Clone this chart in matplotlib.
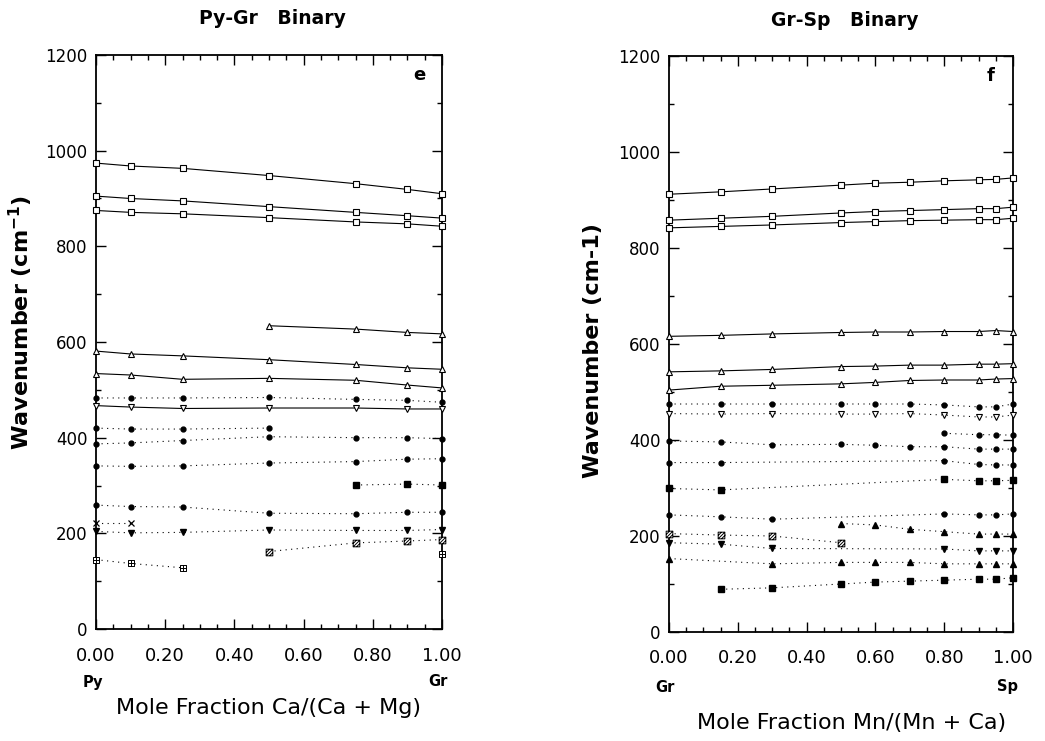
import matplotlib
matplotlib.use('Agg')
import matplotlib.pyplot as plt
from matplotlib.path import Path
from matplotlib.ticker import MultipleLocator, FormatStrFormatter

plt.rcParams['font.family'] = ['DejaVu Sans']

# ---------------- data: Py-Gr binary (panel e) ----------------
x_pg = [0.0, 0.1, 0.25, 0.5, 0.75, 0.9, 1.0]
pg_sq1 = [974, 968, 963, 948, 931, 919, 910]
pg_sq2 = [905, 900, 895, 883, 871, 864, 859]
pg_sq3 = [875, 871, 868, 860, 851, 847, 842]
x_pg_tri1 = [0.5, 0.75, 0.9, 1.0]
pg_tri1 = [634, 627, 620, 617]
pg_tri2 = [581, 575, 571, 563, 553, 546, 543]
pg_tri3 = [534, 531, 522, 524, 520, 510, 504]
pg_dot1 = [483, 483, 483, 484, 480, 478, 474]
pg_dtri = [467, 464, 461, 462, 462, 460, 460]
x_pg_dot2 = [0.0, 0.1, 0.25, 0.5]
pg_dot2 = [420, 418, 418, 420]
pg_dot3 = [387, 389, 394, 402, 400, 400, 398]
pg_dot4 = [341, 340, 341, 347, 350, 355, 356]
x_pg_fsq = [0.75, 0.9, 1.0]
pg_fsq = [301, 303, 301]
pg_dot5 = [259, 256, 255, 242, 241, 244, 244]
x_pg_x = [0.0, 0.1]
pg_x = [222, 222]
pg_fdtri = [204, 201, 202, 207, 206, 206, 208]
x_pg_hsq = [0.5, 0.75, 0.9, 1.0]
pg_hsq = [162, 180, 184, 187]
x_pg_psq = [0.0, 0.1, 0.25]
pg_psq = [145, 137, 128]
x_pg_psq_end = [1.0]
pg_psq_end = [157]

# ---------------- data: Gr-Sp binary (panel f) ----------------
x_gs = [0.0, 0.15, 0.3, 0.5, 0.6, 0.7, 0.8, 0.9, 0.95, 1.0]
gs_sq1 = [912, 917, 923, 931, 935, 937, 940, 942, 943, 946]
gs_sq2 = [858, 862, 866, 873, 876, 878, 880, 882, 882, 885]
gs_sq3 = [842, 845, 848, 853, 855, 857, 858, 859, 859, 862]
gs_tri1 = [616, 618, 621, 624, 625, 625, 626, 626, 628, 626]
gs_tri2 = [542, 544, 547, 553, 554, 556, 556, 558, 558, 559]
gs_tri3 = [504, 512, 514, 517, 520, 524, 525, 525, 527, 528]
gs_dot1 = [475, 475, 475, 475, 475, 475, 473, 469, 469, 475]
gs_dtri = [455, 454, 455, 454, 454, 455, 452, 448, 448, 452]
x_gs_dot2 = [0.8, 0.9, 0.95, 1.0]
gs_dot2 = [414, 411, 411, 410]
gs_dot3 = [398, 396, 390, 391, 389, 386, 386, 381, 381, 381]
x_gs_dot4 = [0.0, 0.15, 0.8, 0.9, 0.95, 1.0]
gs_dot4 = [353, 353, 357, 349, 348, 348]
x_gs_fsq1 = [0.0, 0.15, 0.8, 0.9, 0.95, 1.0]
gs_fsq1 = [299, 296, 318, 315, 315, 316]
x_gs_dot5 = [0.0, 0.15, 0.3, 0.8, 0.9, 0.95, 1.0]
gs_dot5 = [244, 240, 235, 246, 244, 244, 246]
x_gs_ftri1 = [0.5, 0.6, 0.7, 0.8, 0.9, 0.95, 1.0]
gs_ftri1 = [226, 223, 214, 209, 204, 204, 204]
x_gs_hsq = [0.0, 0.15, 0.3, 0.5]
gs_hsq = [205, 202, 200, 186]
x_gs_fdtri = [0.0, 0.15, 0.3, 0.8, 0.9, 0.95, 1.0]
gs_fdtri = [186, 183, 174, 173, 169, 169, 169]
x_gs_ftri2 = [0.0, 0.3, 0.5, 0.6, 0.7, 0.8, 0.9, 0.95, 1.0]
gs_ftri2 = [153, 142, 145, 145, 145, 142, 142, 142, 142]
x_gs_fsq2 = [0.15, 0.3, 0.5, 0.6, 0.7, 0.8, 0.9, 0.95, 1.0]
gs_fsq2 = [89, 92, 100, 104, 106, 108, 110, 110, 113]

xticks = [0.0, 0.2, 0.4, 0.6, 0.8, 1.0]

# ---------------- custom markers ----------------
M, L, C = Path.MOVETO, Path.LINETO, Path.CLOSEPOLY
sq_plus = Path([(-1, -1), (1, -1), (1, 1), (-1, 1), (-1, -1),
                (0, -1), (0, 1), (-1, 0), (1, 0)],
               [M, L, L, L, C, M, L, M, L])
sq_hatch = Path([(-1, -1), (1, -1), (1, 1), (-1, 1), (-1, -1),
                 (-1, -1), (1, 1), (-1, 0), (0, 1), (0, -1), (1, 0)],
                [M, L, L, L, C, M, L, M, L, M, L])

solid = dict(ls='-', lw=0.8, color='black')
dotted = dict(ls=(0, (1, 4)), lw=0.8, color='black')
st = {
    'osq': dict(solid, marker='s', ms=4.8, mfc='white', mec='black', mew=0.8),
    'otri': dict(solid, marker='^', ms=4.2, mfc='white', mec='black', mew=0.8),
    'odtri': dict(solid, marker='v', ms=4.2, mfc='white', mec='black', mew=0.8),
    'dot': dict(dotted, marker='o', ms=3.5, mfc='black', mec='black'),
    'odtri_d': dict(dotted, marker='v', ms=4.2, mfc='white', mec='black', mew=0.8),
    'fsq': dict(dotted, marker='s', ms=4.2, mfc='black', mec='black'),
    'fdtri': dict(dotted, marker='v', ms=4.5, mfc='black', mec='black'),
    'ftri': dict(dotted, marker='^', ms=4.5, mfc='black', mec='black'),
    'x': dict(dotted, marker='x', ms=4.2, mec='black', mew=0.9),
    'hsq': dict(dotted, marker=sq_hatch, ms=4.8, mfc='white', mec='black', mew=0.7),
    'psq': dict(dotted, marker=sq_plus, ms=4.8, mfc='white', mec='black', mew=0.7),
}

W, H = 1045, 741
fig = plt.figure(figsize=(10.45, 7.41), dpi=100)


def fx(x):
    return x / W


def fy(y):
    return 1 - y / H


ax1 = fig.add_axes([fx(96), fy(629), fx(442) - fx(96), fy(55) - fy(629)])
ax2 = fig.add_axes([fx(669), fy(632), fx(1013) - fx(669), fy(56) - fy(632)])

series_pg = [
    (x_pg, pg_sq1, 'osq'), (x_pg, pg_sq2, 'osq'), (x_pg, pg_sq3, 'osq'),
    (x_pg_tri1, pg_tri1, 'otri'), (x_pg, pg_tri2, 'otri'), (x_pg, pg_tri3, 'otri'),
    (x_pg, pg_dot1, 'dot'), (x_pg, pg_dtri, 'odtri'),
    (x_pg_dot2, pg_dot2, 'dot'), (x_pg, pg_dot3, 'dot'), (x_pg, pg_dot4, 'dot'),
    (x_pg_fsq, pg_fsq, 'fsq'), (x_pg, pg_dot5, 'dot'), (x_pg_x, pg_x, 'x'),
    (x_pg, pg_fdtri, 'fdtri'), (x_pg_hsq, pg_hsq, 'hsq'),
    (x_pg_psq, pg_psq, 'psq'), (x_pg_psq_end, pg_psq_end, 'psq'),
]
series_gs = [
    (x_gs, gs_sq1, 'osq'), (x_gs, gs_sq2, 'osq'), (x_gs, gs_sq3, 'osq'),
    (x_gs, gs_tri1, 'otri'), (x_gs, gs_tri2, 'otri'), (x_gs, gs_tri3, 'otri'),
    (x_gs, gs_dot1, 'dot'), (x_gs, gs_dtri, 'odtri_d'),
    (x_gs_dot2, gs_dot2, 'dot'), (x_gs, gs_dot3, 'dot'), (x_gs_dot4, gs_dot4, 'dot'),
    (x_gs_fsq1, gs_fsq1, 'fsq'), (x_gs_dot5, gs_dot5, 'dot'),
    (x_gs_ftri1, gs_ftri1, 'ftri'), (x_gs_hsq, gs_hsq, 'hsq'),
    (x_gs_fdtri, gs_fdtri, 'fdtri'), (x_gs_ftri2, gs_ftri2, 'ftri'),
    (x_gs_fsq2, gs_fsq2, 'fsq'),
]

for ax, ser, pad in ((ax1, series_pg, 13), (ax2, series_gs, 12.5)):
    for xs, ys, key in ser:
        ax.plot(xs, ys, clip_on=False, zorder=3, **st[key])
    ax.set_xlim(0, 1)
    ax.set_ylim(0, 1200)
    ax.set_xticks(xticks)
    ax.xaxis.set_minor_locator(MultipleLocator(0.05))
    ax.yaxis.set_major_locator(MultipleLocator(200))
    ax.yaxis.set_minor_locator(MultipleLocator(100))
    ax.xaxis.set_major_formatter(FormatStrFormatter('%.2f'))
    ax.tick_params(which='both', direction='in', top=True, right=True, width=1.0)
    ax.tick_params(which='major', length=7)
    ax.tick_params(which='minor', length=3.5)
    ax.tick_params(axis='x', which='major', labelsize=13, pad=pad)
    ax.tick_params(axis='y', which='major', labelsize=12, pad=6)
    for sp in ax.spines.values():
        sp.set_linewidth(1.3)

# titles, panel letters
fig.text(fx(272), fy(18), 'Py-Gr   Binary', ha='center', va='center',
         fontsize=13.5, fontweight='bold')
fig.text(fx(845), fy(20), 'Gr-Sp   Binary', ha='center', va='center',
         fontsize=13.5, fontweight='bold')
ax1.text(0.935, 0.965, 'e', transform=ax1.transAxes, ha='center', va='center',
         fontsize=13, fontweight='bold')
ax2.text(0.935, 0.965, 'f', transform=ax2.transAxes, ha='center', va='center',
         fontsize=13, fontweight='bold')

# y labels
fig.text(fx(21), fy(322), 'Wavenumber (cm$^{\\mathbf{-1}}$)', rotation=90,
         ha='center', va='center', fontsize=16, fontweight='bold')
fig.text(fx(593), fy(351), 'Wavenumber (cm-1)', rotation=90,
         ha='center', va='center', fontsize=16, fontweight='bold')

# end-member labels
fig.text(fx(83), fy(682), 'Py', ha='left', va='center', fontsize=10.5, fontweight='bold')
fig.text(fx(448), fy(682), 'Gr', ha='right', va='center', fontsize=10.5, fontweight='bold')
fig.text(fx(655), fy(687), 'Gr', ha='left', va='center', fontsize=10.5, fontweight='bold')
fig.text(fx(1018), fy(687), 'Sp', ha='right', va='center', fontsize=10.5, fontweight='bold')

# x labels
fig.text(fx(269), fy(708), 'Mole Fraction Ca/(Ca + Mg)', ha='center', va='center',
         fontsize=16)
fig.text(fx(852), fy(723), 'Mole Fraction Mn/(Mn + Ca)', ha='center', va='center',
         fontsize=16)

fig.savefig('out.png', dpi=100)
